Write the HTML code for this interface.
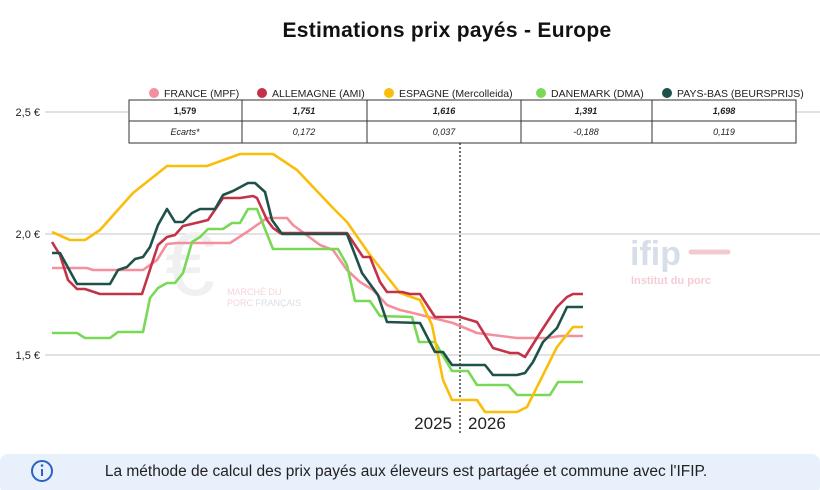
<!DOCTYPE html>
<html><head><meta charset="utf-8"><style>
body{margin:0;background:#fff;font-family:"Liberation Sans",sans-serif;}
</style></head><body>
<svg width="820" height="490" xmlns="http://www.w3.org/2000/svg" style="display:block">
<text x="447" y="37" text-anchor="middle" font-size="21" font-weight="bold" fill="#111" letter-spacing="0.3" font-family="Liberation Sans, sans-serif">Estimations prix payés - Europe</text>
<g stroke="#d0d0d0" stroke-width="1.2">
<line x1="45" y1="112" x2="820" y2="112"/><line x1="45" y1="234" x2="820" y2="234"/><line x1="45" y1="355" x2="820" y2="355"/>
</g>
<g font-size="11" fill="#222" text-anchor="end"><text x="40" y="116">2,5 €</text><text x="40" y="238">2,0 €</text><text x="40" y="359">1,5 €</text></g>
<text x="630" y="265" font-size="34" font-weight="bold" fill="#d6dfe9">ifip</text>
<line x1="691" y1="252" x2="728" y2="252" stroke="#f3c9d0" stroke-width="5" stroke-linecap="round"/>
<text x="631" y="284" font-size="11" font-weight="bold" fill="#f3cdd4">Institut du porc</text>
<text x="165" y="295" font-size="90" fill="#f0f0f0">€</text>
<text x="227" y="295" font-size="9" fill="#f2d6da">MARCHÉ DU</text>
<text x="227" y="306" font-size="9" fill="#f2d6da">PORC <tspan fill="#dcdde8">FRANÇAIS</tspan></text>
<line x1="460" y1="143" x2="460" y2="435" stroke="#222" stroke-width="1.3" stroke-dasharray="2,2"/>
<text x="452" y="429" text-anchor="end" font-size="17" fill="#222">2025</text>
<text x="468" y="429" font-size="17" fill="#222">2026</text>
<g fill="none" stroke-width="2.6" stroke-linejoin="round">
<polyline stroke="#f4909e" points="52,268 87,268 93,270 143,270 157,260 167,244 177,243 230,243 247,232 267,218 287,218 293,225 320,245 333,250 347,270 360,282 373,290 387,305 400,310 413,313 433,318 453,323 477,333 493,335 517,338 547,338 560,336 583,336"/>
<polyline stroke="#79d957" points="52,333 77,333 85,338 110,338 118,332 143,332 150,298 158,288 167,283 175,283 183,273 192,242 200,237 208,229 223,229 232,223 240,223 248,209 257,209 273,249 338,249 347,265 355,301 370,301 380,316 412,317 419,342 435,342 452,371 468,371 477,385 508,385 517,395 550,395 558,382 583,382"/>
<polyline stroke="#fbbd0b" points="52,232 70,240 85,240 100,230 133,193 167,166 207,166 240,154 273,154 297,170 333,208 347,222 370,255 400,293 420,300 432,325 443,380 452,400 477,400 485,412 517,412 527,407 557,347 573,327 583,327"/>
<polyline stroke="#c33348" points="52,242 60,255 68,280 77,289 85,289 100,294 142,294 158,245 167,237 175,235 183,226 200,222 208,220 223,198 240,198 253,196 257,198 267,220 273,228 280,233 347,233 363,257 370,257 380,282 387,292 402,292 410,294 420,294 435,317 460,317 477,322 493,348 510,353 518,353 525,357 540,333 557,307 567,297 573,294 583,294"/>
<polyline stroke="#1e5248" points="52,253 60,253 77,284 110,284 118,270 127,267 135,259 143,257 150,247 158,225 167,209 175,222 183,222 192,213 200,209 215,209 223,195 233,191 248,183 255,183 265,192 272,220 282,234 347,234 362,273 378,295 387,322 420,323 435,352 443,352 452,365 485,365 493,375 517,375 525,373 533,362 543,342 557,328 567,307 583,307"/>
</g>
<g font-size="10.5" fill="#222">
<circle cx="154" cy="93" r="5" fill="#f4909e"/><text x="164" y="97">FRANCE (MPF)</text>
<circle cx="262" cy="93" r="5" fill="#c33348"/><text x="272" y="97">ALLEMAGNE (AMI)</text>
<circle cx="389" cy="93" r="5" fill="#fbbd0b"/><text x="399" y="97">ESPAGNE (Mercolleida)</text>
<circle cx="541" cy="93" r="5" fill="#79d957"/><text x="551" y="97">DANEMARK (DMA)</text>
<circle cx="667" cy="93" r="5" fill="#1e5248"/><text x="677" y="97">PAYS-BAS (BEURSPRIJS)</text>
</g>
<rect x="129" y="100" width="667" height="43" fill="#fff" stroke="#333" stroke-width="1"/>
<line x1="129" y1="121" x2="796" y2="121" stroke="#333"/>
<g stroke="#333"><line x1="242" y1="100" x2="242" y2="143"/><line x1="367" y1="100" x2="367" y2="143"/><line x1="521" y1="100" x2="521" y2="143"/><line x1="652" y1="100" x2="652" y2="143"/></g>
<g font-size="9" fill="#222" text-anchor="middle" font-weight="bold" font-style="italic">
<text x="185" y="114" font-style="normal">1,579</text><text x="304" y="114">1,751</text><text x="444" y="114">1,616</text><text x="586" y="114">1,391</text><text x="724" y="114">1,698</text></g>
<g font-size="9" fill="#222" text-anchor="middle" font-style="italic">
<text x="185" y="135">Ecarts*</text><text x="304" y="135">0,172</text><text x="444" y="135">0,037</text><text x="586" y="135">-0,188</text><text x="724" y="135">0,119</text></g>
<rect x="0" y="454" width="820" height="40" rx="8" fill="#e7f0fb"/>
<circle cx="42" cy="471" r="10" fill="none" stroke="#2a62c9" stroke-width="2"/>
<rect x="41" y="469" width="2" height="7" fill="#2a62c9"/><circle cx="42" cy="465.5" r="1.3" fill="#2a62c9"/>
<text x="406" y="476" text-anchor="middle" font-size="15.5" fill="#222">La méthode de calcul des prix payés aux éleveurs est partagée et commune avec l'IFIP.</text>
</svg>
</body></html>
